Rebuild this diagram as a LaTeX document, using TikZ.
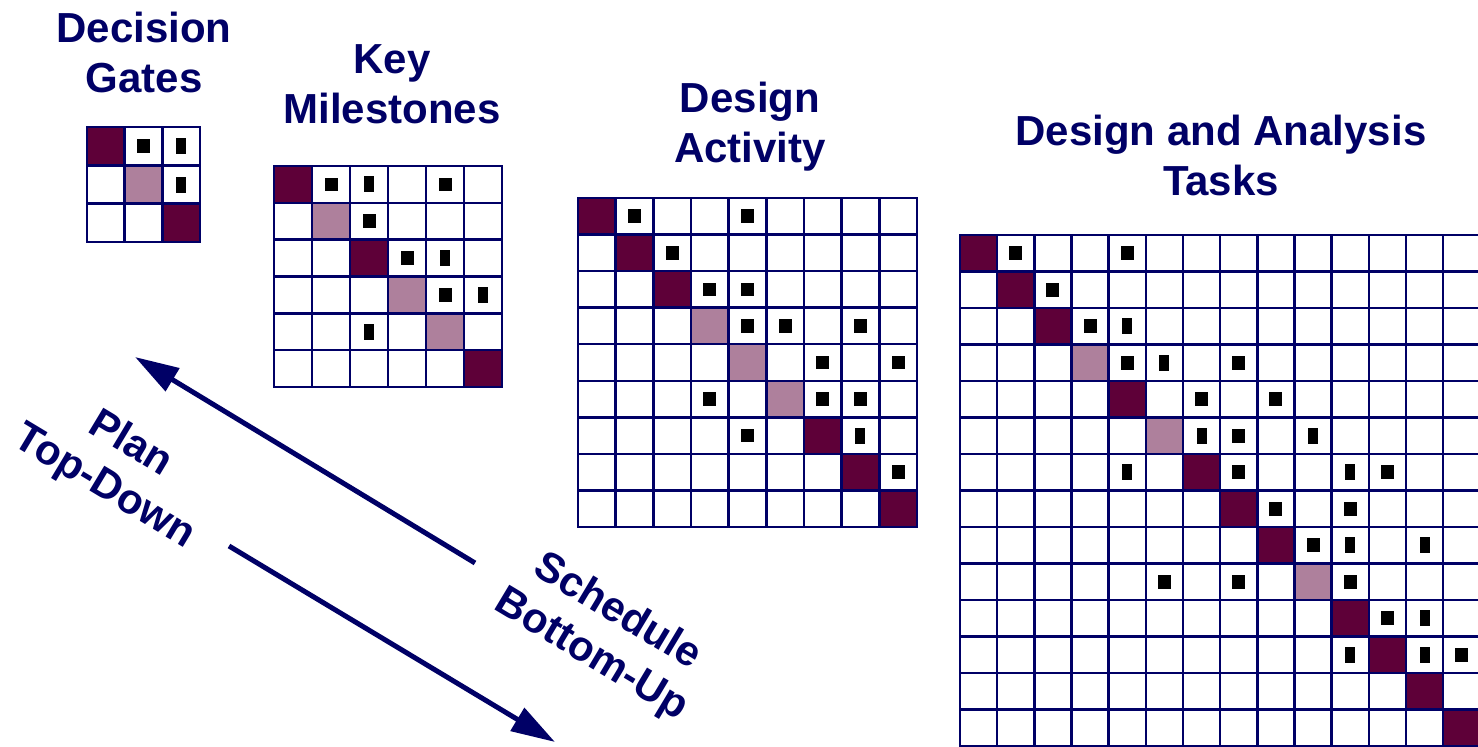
\documentclass[tikz,border=0pt]{standalone}
\usepackage{fontspec}
\setmainfont{Liberation Sans}
\usetikzlibrary{arrows.meta}
\definecolor{navy}{HTML}{000066}
\definecolor{plum}{HTML}{5E0038}
\definecolor{mauve}{HTML}{AE809C}

% one matrix: size, diagonal fills, square marks, narrow marks
\newcommand{\dsm}[4]{%
  \foreach \i/\col in {#2} \fill[\col] (\i-1,\i-1) rectangle (\i,\i);
  \foreach \k in {0,...,#1} {
    \draw[gridline] (\k,0) -- (\k,#1);
    \draw[gridline] (0,\k) -- (#1,\k);
  }
  \foreach \r/\c in {#3} \fill (\c-0.5,\r-0.5) ++(-3.25pt,-3.4pt) rectangle ++(6.5pt,6.8pt);
  \foreach \r/\c in {#4} \fill (\c-0.5,\r-0.5) ++(-2.5pt,-4pt) rectangle ++(5pt,8pt);
}

\begin{document}
\begin{tikzpicture}[
  x=0.5pt, y=-0.5pt,
  gridline/.style={navy, line width=1.25pt, line cap=rect},
  title/.style={navy, font=\fontsize{21pt}{25pt}\selectfont\bfseries, align=center, inner sep=0pt},
  diaglabel/.style={title, rotate=-31},
  bigarrow/.style={navy, line width=2.5pt, -{Triangle[length=22pt, width=13pt]}}
]
\fill[white] (0,0) rectangle (1478,747);
\useasboundingbox (0,0) rectangle (1478,747);

% titles
\node[title] (gates)  at (144,52)  {Decision\\Gates};
\node[title] (miles)  at (392,84)  {Key\\Milestones};
\node[title] (design) at (750,127) {Design\\Activity};
\node[title] (tasks)  at (1221,155) {Design and Analysis\\Tasks};

% matrices
\begin{scope}[shift={(87,127)}, x=18.83pt, y=-19.17pt]
  \dsm{3}{1/plum,2/mauve,3/plum}{1/2}{1/3,2/3}
\end{scope}

\begin{scope}[shift={(274,166)}, x=19pt, y=-18.42pt]
  \dsm{6}{1/plum,2/mauve,3/plum,4/mauve,5/mauve,6/plum}
    {1/2,1/5,2/3,3/4,4/5}
    {1/3,3/5,4/6,5/3}
\end{scope}

\begin{scope}[shift={(578,198)}, x=18.83pt, y=-18.28pt]
  \dsm{9}{1/plum,2/plum,3/plum,4/mauve,5/mauve,6/mauve,7/plum,8/plum,9/plum}
    {1/2,1/5,2/3,3/4,3/5,4/5,4/6,4/8,5/7,5/9,6/4,6/7,6/8,7/5,8/9}
    {7/8}
\end{scope}

\begin{scope}[shift={(960,235)}, x=18.58pt, y=-18.25pt]
  \dsm{14}{1/plum,2/plum,3/plum,4/mauve,5/plum,6/mauve,7/plum,8/plum,9/plum,10/mauve,11/plum,12/plum,13/plum,14/plum}
    {1/2,1/5,2/3,3/4,4/5,4/8,5/7,5/9,6/8,7/8,7/12,8/9,8/11,9/10,10/6,10/8,10/11,11/12,12/14}
    {3/5,4/6,6/7,6/10,7/5,7/11,9/11,9/13,11/13,12/11,12/13}
\end{scope}

% plan / schedule arrows
\coordinate (planTail) at (475,563);
\coordinate (planTip)  at (135,357);
\coordinate (schedTail) at (229,546);
\coordinate (schedTip)  at (555,742);
\draw[bigarrow] (planTail) -- (planTip);
\draw[bigarrow] (schedTail) -- (schedTip);

\node[diaglabel] (plan)  at (117,466) {Plan\\Top-Down};
\node[diaglabel] (sched) at (604,634) {Schedule\\Bottom-Up};
\end{tikzpicture}
\end{document}
